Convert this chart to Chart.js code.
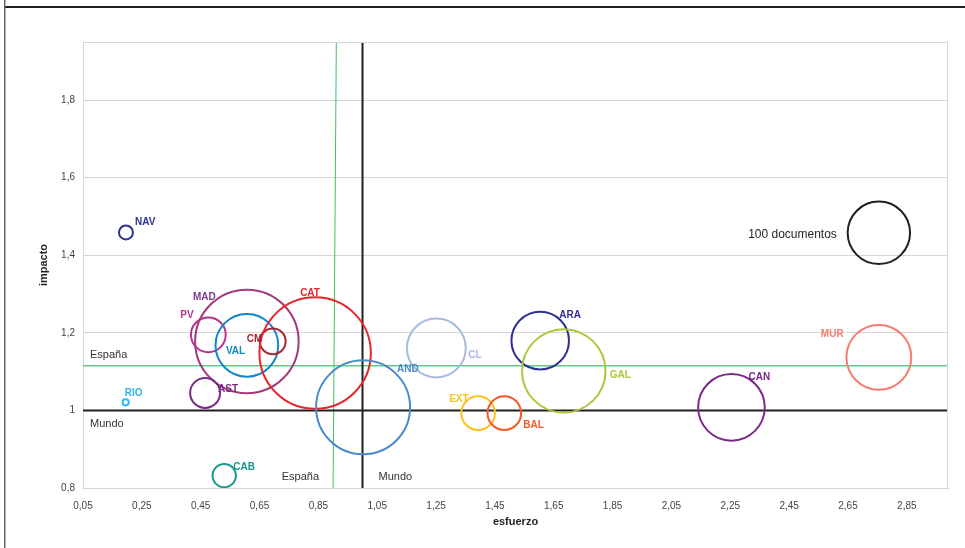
<!DOCTYPE html>
<html>
<head>
<meta charset="utf-8">
<script src="https://cdn.jsdelivr.net/npm/chart.js@4/dist/chart.umd.min.js"></script>
<style>
    html, body { margin: 0; padding: 0; background: #fff; }
    #wrap { width: 965px; height: 548px; position: relative; }
</style>
</head>
<body>
<div id="wrap"><canvas id="chart" width="965" height="548"></canvas></div>
<script>
// Datos por comunidad
const regiones   = ['NAV', 'MAD', 'PV', 'VAL', 'CM', 'CAT', 'AST', 'RIO', 'AND', 'CL', 'ARA', 'GAL', 'EXT', 'BAL', 'CAN', 'MUR', 'CAB'];
const esfuerzo   = [0.196, 0.607, 0.476, 0.607, 0.695, 0.839, 0.465, 0.195, 1.002, 1.251, 1.604, 1.684, 1.393, 1.482, 2.254, 2.755, 0.530];
const impacto    = [1.459, 1.178, 1.195, 1.168, 1.178, 1.148, 1.045, 1.021, 1.008, 1.161, 1.180, 1.102, 0.993, 0.993, 1.008, 1.137, 0.832];
const documentos = [5, 275, 31, 101, 17, 319, 23, 1, 227, 89, 85, 179, 29, 29, 114, 108, 14];

// Burbuja de referencia
const leyendaTexto = '100 documentos';
const leyendaDocs = [100];
const leyendaPos = [2.755, 1.458];

// Referencias España / Mundo
const mundoEsfuerzo = 1;
const mundoImpacto = 1;
const espanaImpacto = 1.115;
const espanaEsfuerzo = [0.911, 0.900]; // arriba, abajo

// Ejes
const xTicks = [0.05, 0.25, 0.45, 0.65, 0.85, 1.05, 1.25, 1.45, 1.65, 1.85, 2.05, 2.25, 2.45, 2.65, 2.85];
const xTickLabels = ['0,05', '0,25', '0,45', '0,65', '0,85', '1,05', '1,25', '1,45', '1,65', '1,85', '2,05', '2,25', '2,45', '2,65', '2,85'];
const yTicks = [0.8, 1, 1.2, 1.4, 1.6, 1.8];
const yTickLabels = ['0,8', '1', '1,2', '1,4', '1,6', '1,8'];

// Estilos
const colores = ['#2e3192', '#a3387a', '#b5338f', '#0f87c9', '#a8262f', '#e8242b', '#7a2a86', '#2bb8e8', '#4b89c9',
                 '#a9badf', '#2e3192', '#a9c83b', '#f9c21f', '#f15a29', '#7a2a86', '#f47c6f', '#17998a'];
const coloresTexto = ['#2e3192', '#7d3b8f', '#b5338f', '#0f87c9', '#a8262f', '#e8242b', '#7a2a86', '#2bb8e8', '#4b89c9',
                      '#a9badf', '#2e3192', '#a9c83b', '#f9c21f', '#f15a29', '#7a2a86', '#f47c6f', '#17998a'];
// desplazamiento de cada etiqueta respecto al centro de su burbuja (px)
const etiquetaOffset = [[9, -10], [-54, -44], [-28, -20], [-21, 6], [-26, -2], [-15, -60], [13, -4], [-1, -9], [34, -38],
                        [32, 7], [19, -25], [46, 4], [-29, -14], [19, 12], [17, -30], [-58, -23], [9, -8]];
const verde = '#62c986';
const radioBase = 31.2; // px para 100 documentos
const radio = d => radioBase * Math.sqrt(d / 100);

const font = 'Liberation Sans, Arial, sans-serif';

const overlay = {
    id: 'overlay',
    beforeDraw(chart) {
        const ctx = chart.ctx;
        ctx.save();
        // marco exterior
        ctx.fillStyle = '#231f20';
        ctx.fillRect(4, 6, 961, 2);
        ctx.fillStyle = '#666';
        ctx.fillRect(4, 0, 1.5, 548);
        ctx.restore();
    },
    afterDraw(chart) {
        const ctx = chart.ctx;
        const a = chart.chartArea;
        const xs = chart.scales.x, ys = chart.scales.y;
        ctx.save();
        // borde del área de trazado
        ctx.strokeStyle = '#d6d6d6';
        ctx.lineWidth = 1;
        ctx.beginPath();
        ctx.moveTo(a.left, a.top + 0.5);
        ctx.lineTo(a.right - 0.5, a.top + 0.5);
        ctx.lineTo(a.right - 0.5, a.bottom);
        ctx.stroke();

        // etiquetas de las burbujas
        ctx.textBaseline = 'middle';
        ctx.textAlign = 'left';
        ctx.font = 'bold 10px ' + font;
        regiones.forEach((r, i) => {
            const px = xs.getPixelForValue(esfuerzo[i]);
            const py = ys.getPixelForValue(impacto[i]);
            ctx.fillStyle = coloresTexto[i];
            ctx.fillText(r, px + etiquetaOffset[i][0], py + etiquetaOffset[i][1]);
        });

        // leyenda
        ctx.font = '12px ' + font;
        ctx.fillStyle = '#231f20';
        ctx.textAlign = 'right';
        ctx.fillText(leyendaTexto, xs.getPixelForValue(leyendaPos[0]) - 42, ys.getPixelForValue(leyendaPos[1]) + 2);

        // textos de referencia
        ctx.font = '11px ' + font;
        ctx.fillStyle = '#333';
        ctx.textAlign = 'left';
        ctx.fillText('España', a.left + 7, ys.getPixelForValue(espanaImpacto) - 11);
        ctx.fillText('Mundo', a.left + 7, ys.getPixelForValue(mundoImpacto) + 14);
        ctx.textAlign = 'right';
        ctx.fillText('España', xs.getPixelForValue(espanaEsfuerzo[1]) - 14, a.bottom - 11);
        ctx.textAlign = 'left';
        ctx.fillText('Mundo', xs.getPixelForValue(mundoEsfuerzo) + 16, a.bottom - 11);

        // títulos de ejes
        ctx.font = 'bold 11px ' + font;
        ctx.fillStyle = '#231f20';
        ctx.textAlign = 'center';
        ctx.fillText('esfuerzo', (a.left + a.right) / 2, 522);
        ctx.translate(44, (a.top + a.bottom) / 2);
        ctx.rotate(-Math.PI / 2);
        ctx.fillText('impacto', 0, 0);
        ctx.restore();
    }
};

const burbujas = regiones.map((r, i) => ({ x: esfuerzo[i], y: impacto[i], r: radio(documentos[i]) }));

const chart = new Chart(document.getElementById('chart').getContext('2d'), {
    type: 'bubble',
    data: {
        datasets: [
            {
                label: 'regiones',
                data: burbujas,
                backgroundColor: 'rgba(0,0,0,0)',
                borderColor: colores,
                borderWidth: 2
            },
            {
                label: 'leyenda',
                data: [{ x: leyendaPos[0], y: leyendaPos[1], r: radio(leyendaDocs[0]) }],
                backgroundColor: 'rgba(0,0,0,0)',
                borderColor: '#231f20',
                borderWidth: 2
            },
            {
                type: 'line',
                label: 'Mundo impacto',
                data: [{ x: 0.05, y: mundoImpacto }, { x: 2.99, y: mundoImpacto }],
                borderColor: '#231f20',
                borderWidth: 2,
                pointRadius: 0,
                fill: false
            },
            {
                type: 'line',
                label: 'Mundo esfuerzo',
                data: [{ x: mundoEsfuerzo, y: 0.8 }, { x: mundoEsfuerzo, y: 1.95 }],
                borderColor: '#231f20',
                borderWidth: 2,
                pointRadius: 0,
                fill: false
            },
            {
                type: 'line',
                label: 'España impacto',
                data: [{ x: 0.05, y: espanaImpacto }, { x: 2.99, y: espanaImpacto }],
                borderColor: verde,
                borderWidth: 1.5,
                pointRadius: 0,
                fill: false
            },
            {
                type: 'line',
                label: 'España esfuerzo',
                data: [{ x: espanaEsfuerzo[0], y: 1.95 }, { x: espanaEsfuerzo[1], y: 0.8 }],
                borderColor: '#3fbf5f',
                borderWidth: 1,
                pointRadius: 0,
                fill: false
            }
        ]
    },
    options: {
        responsive: false,
        animation: false,
        devicePixelRatio: 1,
        events: [],
        layout: { autoPadding: false, padding: { top: 42, right: 17, left: 0, bottom: 0 } },
        plugins: {
            legend: { display: false },
            tooltip: { enabled: false }
        },
        scales: {
            x: {
                type: 'linear',
                min: 0.05,
                max: 2.99,
                afterFit: s => { s.height = 60; },
                afterBuildTicks: s => { s.ticks = xTicks.map(v => ({ value: v })); },
                grid: { display: false, drawTicks: false },
                border: { display: true, color: '#d6d6d6' },
                ticks: {
                    padding: 12,
                    maxRotation: 0,
                    autoSkip: false,
                    color: '#444',
                    font: { family: 'Liberation Sans Narrow, Liberation Sans, Arial', size: 10 },
                    callback: (v, i) => xTickLabels[i]
                }
            },
            y: {
                type: 'linear',
                min: 0.8,
                max: 1.95,
                afterFit: s => { s.width = 83; },
                afterBuildTicks: s => { s.ticks = yTicks.map(v => ({ value: v })); },
                grid: { color: '#d6d6d6', lineWidth: 1, drawTicks: false },
                border: { display: true, color: '#d6d6d6' },
                ticks: {
                    padding: 8,
                    autoSkip: false,
                    color: '#444',
                    font: { family: 'Liberation Sans Narrow, Liberation Sans, Arial', size: 10 },
                    callback: (v, i) => yTickLabels[i]
                }
            }
        }
    },
    plugins: [overlay]
});
</script>
</body>
</html>
